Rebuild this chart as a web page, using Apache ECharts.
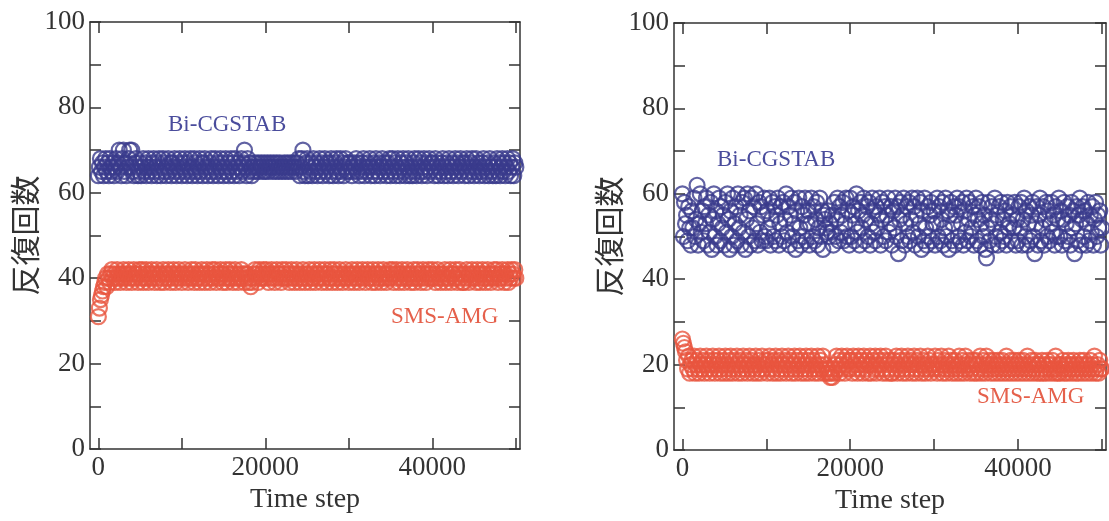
<!DOCTYPE html>
<html>
<head>
<meta charset="utf-8">
<script src="https://cdn.jsdelivr.net/npm/echarts@6/dist/echarts.min.js"></script>
<style>
  html, body { margin: 0; padding: 0; background: #fff; }
  #chart { width: 1109px; height: 521px; }
</style>
</head>
<body>
<div id="chart"></div>
<script>
// time steps sampled every 125 steps, 0 .. 50000
const STEP = 125;
const timeSteps = Array.from({ length: 401 }, (_, i) => i * STEP);

const xTicks = [0, 10000, 20000, 30000, 40000, 50000];
const xTickLabels = [0, 20000, 40000];

// left panel
const leftBi = [
  64,66,68,65,67,64,66,68,65,67, 64,68,66,65,67,64,66,68,65,67, 70,66,64,68,70,65,67,64,66,68, 70,66,70,65,64,67,68,66,64,65,
  67,64,66,68,65,67,64,66,68,65, 66,64,67,68,65,66,64,67,68,65, 64,66,68,67,65,64,66,68,65,67, 64,67,66,68,65,64,66,67,68,65,
  64,66,67,68,65,64,67,66,68,65, 64,66,68,67,65,64,66,68,65,67, 64,67,68,66,65,64,66,67,68,65, 64,66,68,65,67,64,66,68,67,65,
  64,66,68,65,67,64,66,68,65,67, 64,68,66,65,67,64,66,68,65,67, 70,66,64,68,65,67,66,64,65,66, 67,65,66,67,65,66,67,66,65,67,
  65,66,67,65,66,67,66,65,67,66, 65,67,66,65,67,66,65,66,67,65, 66,67,65,66,67,65,66,67,66,65, 67,66,68,64,66,68,70,65,64,67,
  68,64,66,65,67,64,68,66,65,67, 64,66,68,65,67,64,66,68,65,67, 66,64,67,68,65,64,66,67,68,65, 64,66,68,65,67,64,66,68,65,67,
  65,67,66,64,65,67,66,68,65,67, 64,66,65,67,68,64,66,65,67,66, 68,64,66,65,67,64,68,66,65,67, 64,66,68,65,67,66,64,67,65,68,
  64,66,68,65,67,64,66,68,65,64, 67,66,68,65,64,67,66,68,64,65, 66,64,67,68,65,64,66,68,67,65, 64,66,68,65,67,64,66,68,65,67,
  67,66,64,68,65,67,64,66,65,67, 68,64,66,65,67,64,68,66,65,67, 64,66,68,65,67,64,66,68,65,67, 66,64,67,68,65,64,66,67,68,65,
  64,66,68,65,67,64,66,65,67,68, 64,66,65,67,64,68,66,65,64,67, 66,64,68,65,67,64,66,68,65,67, 64,66,68,65,67,64,66,68,64,67,
  66
];
const leftSms = [
  31,33,35,36,37,38,39,40,38,41, 40,39,41,42,40,41,39,40,42,41, 40,39,41,40,42,41,40,39,41,42, 40,41,39,40,42,41,40,41,39,42,
  41,40,42,39,40,41,42,40,39,41, 40,42,41,40,39,41,42,40,41,39, 41,40,42,39,41,40,41,42,40,39, 41,40,42,41,39,40,41,42,40,41,
  39,41,40,42,41,40,39,41,40,42, 40,41,39,42,40,41,40,39,41,42, 41,40,39,41,42,40,41,39,40,42, 40,41,42,39,40,41,40,42,41,39,
  41,40,42,39,40,41,42,40,41,39, 40,42,41,40,39,41,40,42,40,41, 39,41,40,41,39,40,38,39,40,41, 42,40,41,39,42,40,41,40,42,41,
  40,42,41,39,40,41,42,40,41,39, 40,42,41,40,41,39,42,40,41,40, 42,40,41,39,40,42,41,40,39,41, 42,40,41,39,40,41,42,40,39,41,
  40,41,42,39,40,41,40,42,39,41, 40,41,42,40,39,41,40,42,41,39, 41,40,42,40,39,41,42,40,41,39, 40,42,41,40,39,41,40,42,40,41,
  39,41,40,42,41,39,40,41,42,40, 39,41,40,42,41,40,39,41,42,40, 41,40,39,42,41,40,39,41,42,40, 41,39,40,42,41,40,39,41,40,42,
  40,41,42,39,41,40,42,41,39,40, 41,42,40,39,41,40,42,41,40,39, 41,40,42,39,40,41,42,40,41,39, 40,42,41,40,39,41,42,40,41,40,
  42,40,41,39,40,42,41,40,39,41, 40,41,42,39,40,41,40,42,39,41, 41,40,42,40,39,41,42,40,41,39, 39,41,40,42,41,39,40,41,42,40,
  41,40,39,42,41,40,39,41,42,40, 41,39,40,42,41,40,39,41,40,42, 40,41,42,39,40,41,40,42,41,39, 41,40,42,39,41,40,42,41,40,42,
  40
];

// right panel
const rightBi = [
  60,50,58,53,55,49,57,52,48,56, 52,59,50,54,62,48,53,60,51,56, 49,57,53,59,48,55,51,58,47,54, 60,50,56,48,53,59,49,57,52,55,
  48,58,51,60,54,47,56,50,59,48, 53,57,49,60,52,55,48,58,51,59, 47,54,60,50,56,48,59,52,57,49, 60,53,48,58,51,57,49,55,59,50,
  49,56,52,59,48,54,58,50,57,49, 55,59,48,53,57,50,58,49,54,60, 51,57,48,55,59,50,53,58,47,56, 49,59,52,48,57,50,55,59,49,53,
  56,48,53,59,50,57,49,54,58,48, 52,59,50,56,47,55,54,52,51,56, 50,53,51,55,48,58,50,54,59,49, 57,51,55,58,49,53,59,50,56,48,
  59,50,55,57,49,53,60,51,56,48, 58,52,55,59,49,54,57,50,58,48, 53,59,51,56,49,57,52,55,59,48, 54,58,50,57,49,55,59,51,53,57,
  48,56,52,59,50,57,46,54,58,49, 55,59,48,53,57,50,58,49,54,59, 51,57,48,55,59,50,53,58,47,56, 49,59,52,48,57,50,55,58,49,53,
  56,48,53,59,50,57,49,54,58,48, 52,59,50,56,47,55,58,49,53,57, 48,55,59,50,57,49,53,58,48,56, 51,59,49,54,58,50,52,57,48,55,
  59,49,54,57,48,53,58,50,55,47, 45,52,58,49,54,57,48,53,59,50, 55,48,57,51,58,49,54,50,56,48, 58,52,53,57,49,55,52,58,48,54,
  49,57,52,58,48,54,59,50,56,48, 53,57,49,55,58,50,46,53,57,48, 55,59,49,52,57,48,54,58,50,56, 49,53,58,51,55,48,57,50,54,59,
  50,56,48,54,58,49,53,57,50,55, 48,58,52,56,46,53,57,49,55,59, 48,54,57,50,56,48,53,58,49,55, 51,57,48,54,58,50,55,52,56,48,
  52
];
const rightSms = [
  26,25,24,23,21,19,22,18,20,21, 19,22,18,20,21,19,18,22,20,19, 21,18,20,22,19,21,18,20,19,22, 21,18,20,19,21,22,18,19,20,21,
  18,22,19,20,18,21,22,19,18,20, 21,19,22,18,20,21,19,18,22,20, 19,21,18,20,22,19,21,18,20,19, 22,18,20,21,19,18,22,20,19,21,
  20,18,21,22,19,20,18,21,19,22, 18,20,21,19,18,22,20,19,21,18, 20,22,19,21,18,20,19,22,18,21, 19,20,22,18,21,19,20,18,22,19,
  21,18,20,22,19,21,18,20,19,22, 18,20,21,19,22,18,20,19,18,19, 18,17,18,17,19,18,20,22,19,21, 18,20,22,19,21,18,20,22,19,21,
  19,21,18,22,20,19,21,18,22,20, 19,21,18,22,20,19,21,18,20,22, 18,20,21,19,22,18,20,19,21,22, 20,18,19,21,22,18,20,19,21,18,
  18,20,21,19,22,18,20,19,21,22, 18,19,20,21,18,22,19,20,21,18, 20,22,19,18,21,20,19,22,18,20, 21,19,18,20,22,19,21,18,20,19,
  20,22,19,18,21,20,19,22,18,20, 21,19,18,20,22,19,21,18,20,19, 21,18,20,19,22,18,20,21,19,18, 22,20,19,21,18,20,19,21,18,20,
  21,18,20,19,22,18,20,21,19,18, 22,20,19,21,18,20,19,21,18,20, 19,21,18,20,19,21,18,20,19,22, 18,20,19,21,18,20,19,21,18,20,
  19,21,18,20,19,21,18,20,19,22, 18,20,19,21,18,20,19,21,18,20, 20,18,19,21,18,20,19,18,21,20, 19,18,20,21,19,18,22,19,18,20,
  18,20,19,21,18,20,19,18,21,20, 19,18,20,21,19,18,20,19,18,21, 20,19,18,21,20,19,18,20,19,21, 18,20,19,22,18,19,20,18,21,19,
  19
];

const BLUE = "#3a3b8c";
const RED = "#e9553f";
const SERIF = "'Liberation Serif', 'DejaVu Serif', serif";

function pairs(vals) {
  return vals.map((v, i) => [timeSteps[i], v]);
}

const axisLine = { show: true, onZero: false, lineStyle: { color: "#333", width: 1.5 } };
const tickStyle = { color: "#333", width: 1.5 };

function xAxes(gridIndex) {
  const base = {
    type: "value",
    gridIndex: gridIndex,
    min: -1000,
    max: 50500,
    splitLine: { show: false },
    axisLine: axisLine,
    axisTick: { show: true, inside: true, length: 11, customValues: xTicks, lineStyle: tickStyle },
  };
  return [
    Object.assign({}, base, {
      position: "bottom",
      name: "Time step",
      nameLocation: "middle",
      nameGap: 37,
      nameTextStyle: { fontFamily: SERIF, fontSize: 28, color: "#333" },
      axisLabel: {
        show: true,
        customValues: xTickLabels,
        margin: 5,
        fontFamily: SERIF,
        fontSize: 27,
        color: "#333",
        formatter: (v) => String(v),
      },
    }),
    Object.assign({}, base, { position: "top", axisLabel: { show: false } }),
  ];
}

function yAxes(gridIndex) {
  const base = {
    type: "value",
    gridIndex: gridIndex,
    min: 0,
    max: 100,
    interval: 10,
    splitLine: { show: false },
    axisLine: axisLine,
    axisTick: { show: true, inside: true, length: 11, lineStyle: tickStyle },
  };
  return [
    Object.assign({}, base, {
      position: "left",
      name: "反復回数",
      nameLocation: "middle",
      nameRotate: 90,
      nameGap: 50,
      nameTextStyle: { fontFamily: "'Noto Sans CJK JP', sans-serif", fontSize: 30, color: "#333" },
      axisLabel: {
        show: true,
        margin: 5,
        fontFamily: SERIF,
        fontSize: 27,
        color: "#333",
        formatter: (v) => (v % 20 === 0 ? String(v) : ""),
      },
    }),
    Object.assign({}, base, { position: "right", axisLabel: { show: false } }),
  ];
}

function scatter(vals, color, xi, yi) {
  return {
    type: "scatter",
    xAxisIndex: xi,
    yAxisIndex: yi,
    symbol: "circle",
    symbolSize: 15,
    itemStyle: { color: "transparent", borderColor: color, borderWidth: 2.2 },
    data: pairs(vals),
  };
}

function note(text, x, y, color) {
  return {
    type: "text",
    left: x,
    top: y,
    style: { text: text, fill: color, font: "23px " + SERIF },
  };
}

const option = {
  animation: false,
  backgroundColor: "#fff",
  grid: [
    { left: 90, top: 22, width: 430, height: 427 },
    { left: 674, top: 23, width: 432, height: 427 },
  ],
  xAxis: xAxes(0).concat(xAxes(1)),
  yAxis: yAxes(0).concat(yAxes(1)),
  series: [
    scatter(leftBi, BLUE, 0, 0),
    scatter(leftSms, RED, 0, 0),
    scatter(rightBi, BLUE, 2, 2),
    scatter(rightSms, RED, 2, 2),
  ],
  graphic: [
    note("Bi-CGSTAB", 168, 113, "#4a4c9c"),
    note("SMS-AMG", 391, 305, "#e5604b"),
    note("Bi-CGSTAB", 717, 148, "#4a4c9c"),
    note("SMS-AMG", 977, 385, "#e5604b"),
  ],
};

const chart = echarts.init(document.getElementById("chart"));
chart.setOption(option);
</script>
</body>
</html>
